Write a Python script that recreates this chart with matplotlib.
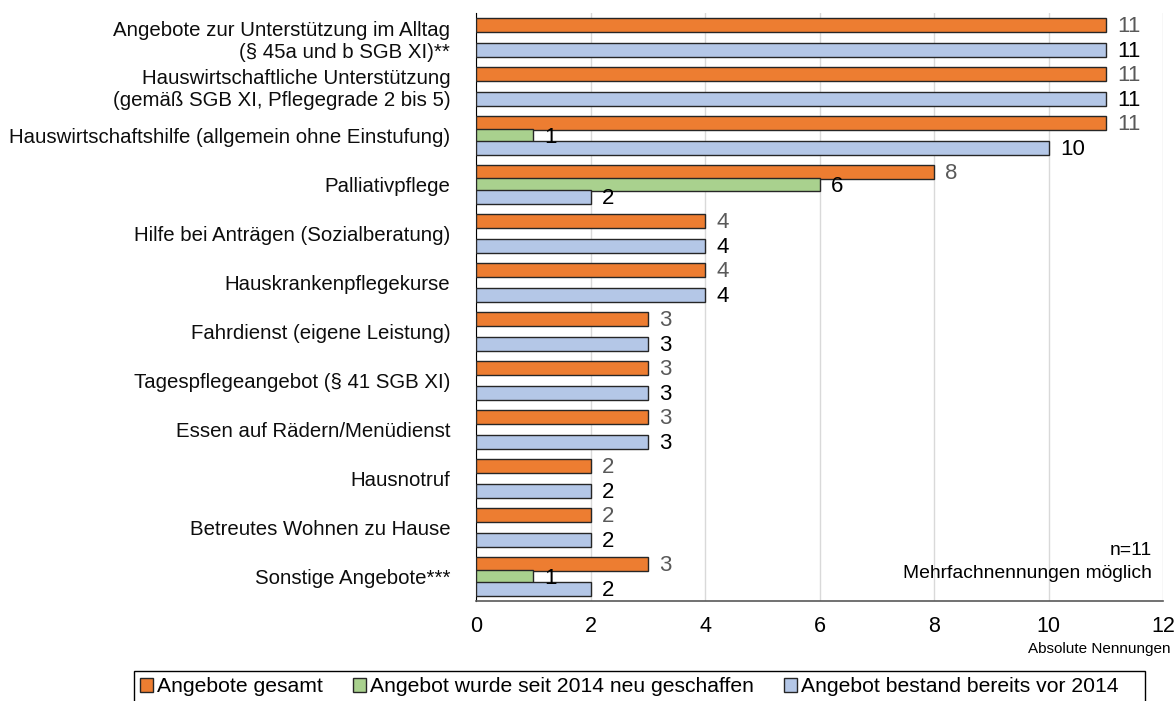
import numpy as np
import matplotlib
matplotlib.use('Agg')
import matplotlib.pyplot as plt
from matplotlib.patches import Patch, Rectangle

plt.rcParams['font.family'] = ['Liberation Sans', 'DejaVu Sans']

# Daten
kategorien = [
    "Angebote zur Unterstützung im Alltag\n(§ 45a und b SGB XI)**",
    "Hauswirtschaftliche Unterstützung\n(gemäß SGB XI, Pflegegrade 2 bis 5)",
    "Hauswirtschaftshilfe (allgemein ohne Einstufung)",
    "Palliativpflege",
    "Hilfe bei Anträgen (Sozialberatung)",
    "Hauskrankenpflegekurse",
    "Fahrdienst (eigene Leistung)",
    "Tagespflegeangebot (§ 41 SGB XI)",
    "Essen auf Rädern/Menüdienst",
    "Hausnotruf",
    "Betreutes Wohnen zu Hause",
    "Sonstige Angebote***",
]
gesamt = [11, 11, 11, 8, 4, 4, 3, 3, 3, 2, 2, 3]
neu_seit_2014 = [0, 0, 1, 6, 0, 0, 0, 0, 0, 0, 0, 1]
vor_2014 = [11, 11, 10, 2, 4, 4, 3, 3, 3, 2, 2, 2]
serien_namen = ["Angebote gesamt", "Angebot wurde seit 2014 neu geschaffen",
                "Angebot bestand bereits vor 2014"]
x_ticks = [0, 2, 4, 6, 8, 10, 12]

farben = ["#ED7D31", "#A9D18E", "#B4C7E7"]
label_farben = ["#595959", "#000000", "#000000"]
kante = "#262626"

fig = plt.figure(figsize=(11.75, 7.01), dpi=100)
ax = fig.add_axes([476 / 1175, 1 - 601 / 701, (1163 - 476) / 1175, (601 - 13) / 701])

y = np.arange(len(kategorien))
offsets = [-0.255, 0.0, 0.255]
bar_h = 0.28

for serie, off, farbe, lf in zip([gesamt, neu_seit_2014, vor_2014], offsets, farben, label_farben):
    for yi, v in zip(y, serie):
        if v == 0:
            continue
        ax.barh(yi + off, v, height=bar_h, color=farbe, edgecolor=kante, linewidth=1.0, zorder=3)
        ax.text(v + 0.2, yi + off + 0.04, str(v), va='center', ha='left',
                fontsize=16, color=lf, zorder=4)

ax.set_ylim(len(kategorien) - 0.5, -0.5)
ax.set_xlim(0, 12)
ax.set_xticks(x_ticks)
ax.set_xticklabels([str(t) for t in x_ticks], fontsize=15.5)
ax.set_yticks(y)
ax.set_yticklabels(kategorien, fontsize=14.7, color="#0d0d0d")
ax.tick_params(axis='y', length=0, pad=18.5)
ax.tick_params(axis='x', length=0, pad=11)
ax.xaxis.grid(True, color="#d9d9d9", linewidth=1.0, zorder=0)
ax.set_axisbelow(True)
for s in ['top', 'right']:
    ax.spines[s].set_visible(False)
ax.spines['left'].set_color("#000000")
ax.spines['bottom'].set_color("#595959")
ax.spines['bottom'].set_linewidth(1.2)

ax.text((1152 - 476) / 687, (601 - 562) / 588, "n=11\nMehrfachnennungen möglich",
        transform=ax.transAxes, ha='right', va='center', fontsize=13.9, linespacing=1.5)
fig.text(1170 / 1175, 1 - 649 / 701, "Absolute Nennungen", ha='right', va='center',
         fontsize=11)

# Legende ohne eigenen Rahmen, Rahmen separat wie im Original
handles = [Patch(facecolor=f, edgecolor=kante, linewidth=1.0) for f in farben]
leg = fig.legend(handles, serien_namen, loc='upper left',
                 bbox_to_anchor=(134 / 1175, 1 - 671 / 701),
                 ncol=3, fontsize=15.2, frameon=False,
                 handlelength=0.62, handleheight=0.62, handletextpad=0.19,
                 columnspacing=1.42, borderpad=0.3, borderaxespad=0)
fig.patches.append(Rectangle((134 / 1175, -0.01), (1145 - 134) / 1175, 1 - 671 / 701 + 0.01,
                             transform=fig.transFigure, fill=False,
                             edgecolor="#000000", linewidth=1.0))

fig.savefig("out.png", dpi=100)
